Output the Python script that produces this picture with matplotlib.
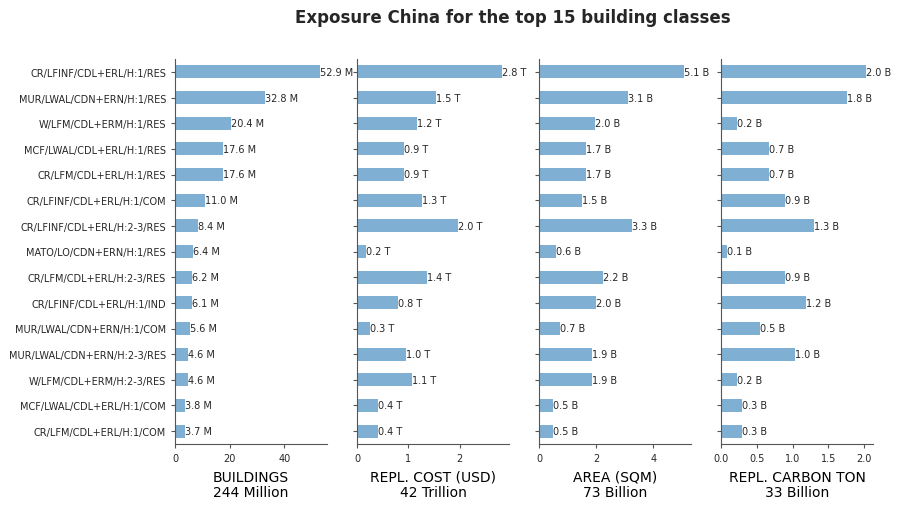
import numpy as np
import matplotlib.pyplot as plt

# building classes, top to bottom
classes = [
    "CR/LFINF/CDL+ERL/H:1/RES",
    "MUR/LWAL/CDN+ERN/H:1/RES",
    "W/LFM/CDL+ERM/H:1/RES",
    "MCF/LWAL/CDL+ERL/H:1/RES",
    "CR/LFM/CDL+ERL/H:1/RES",
    "CR/LFINF/CDL+ERL/H:1/COM",
    "CR/LFINF/CDL+ERL/H:2-3/RES",
    "MATO/LO/CDN+ERN/H:1/RES",
    "CR/LFM/CDL+ERL/H:2-3/RES",
    "CR/LFINF/CDL+ERL/H:1/IND",
    "MUR/LWAL/CDN+ERN/H:1/COM",
    "MUR/LWAL/CDN+ERN/H:2-3/RES",
    "W/LFM/CDL+ERM/H:2-3/RES",
    "MCF/LWAL/CDL+ERL/H:1/COM",
    "CR/LFM/CDL+ERL/H:1/COM",
]

buildings = [52.9, 32.8, 20.4, 17.6, 17.6, 11.0, 8.4, 6.4, 6.2, 6.1, 5.6, 4.6, 4.6, 3.8, 3.7]
repl_cost = [2.82, 1.53, 1.16, 0.92, 0.92, 1.27, 1.97, 0.18, 1.36, 0.79, 0.26, 0.96, 1.08, 0.41, 0.41]
area = [5.06, 3.10, 1.96, 1.66, 1.66, 1.52, 3.26, 0.60, 2.22, 1.98, 0.72, 1.86, 1.86, 0.49, 0.49]
carbon = [2.02, 1.76, 0.23, 0.67, 0.67, 0.90, 1.30, 0.08, 0.89, 1.18, 0.54, 1.03, 0.22, 0.30, 0.30]

panels = [
    (buildings, "M", "BUILDINGS\n244 Million"),
    (repl_cost, "T", "REPL. COST (USD)\n42 Trillion"),
    (area, "B", "AREA (SQM)\n73 Billion"),
    (carbon, "B", "REPL. CARBON TON\n33 Billion"),
]

bar_color = "#7fafd3"
text_color = "#262626"
spine_color = "#555555"

fig = plt.figure(figsize=(9.02, 5.10), dpi=100)
W, H = 902, 510
lefts = [175, 357, 539, 721]
ax_w, top, bottom = 152, 60, 445

y = np.arange(len(classes))
for i, (vals, unit, label) in enumerate(panels):
    ax = fig.add_axes([lefts[i] / W, 1 - bottom / H, ax_w / W, (bottom - top) / H])
    ax.barh(y, vals, height=0.5, color=bar_color)
    for yi, v in zip(y, vals):
        ax.text(v, yi, f"{v:.1f} {unit}", va="center", ha="left",
                fontsize=7, color=text_color)
    ax.set_ylim(len(classes) - 0.5, -0.5)
    ax.set_xlim(0, max(vals) * 1.05)
    ax.set_yticks(y)
    if i == 0:
        ax.set_yticklabels(classes, fontsize=7, color=text_color)
    else:
        ax.set_yticklabels([])
    ax.tick_params(axis="x", labelsize=7, colors=spine_color, labelcolor=text_color, length=3)
    ax.tick_params(axis="y", colors=spine_color, labelcolor=text_color, length=3)
    for s in ["top", "right"]:
        ax.spines[s].set_visible(False)
    for s in ["left", "bottom"]:
        ax.spines[s].set_color(spine_color)
    ax.set_xlabel(label, fontsize=10, color="black", labelpad=5, linespacing=1.1)

fig.text(513 / W, 1 - 18 / H, "Exposure China for the top 15 building classes",
         ha="center", va="center", fontsize=12, fontweight="bold", color=text_color)

fig.savefig("out.png", dpi=100)
